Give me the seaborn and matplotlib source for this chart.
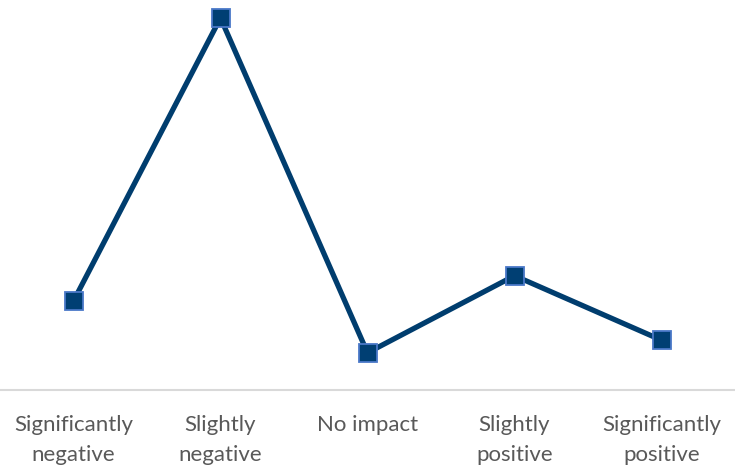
import matplotlib.pyplot as plt
import seaborn as sns
import pandas as pd

categories = ["Significantly\nnegative", "Slightly\nnegative", "No impact",
              "Slightly\npositive", "Significantly\npositive"]
values = [13.4, 56, 5.6, 17.2, 7.5]

df = pd.DataFrame({"pos": range(len(categories)), "value": values})

sns.set_style("white")
plt.rcParams['font.family'] = ['Lato', 'DejaVu Sans']

fig = plt.figure(figsize=(7.35, 4.73), dpi=100)
ax = fig.add_axes([0, (473 - 390) / 473, 1, 390 / 473])

sns.lineplot(data=df, x="pos", y="value", ax=ax, color="#003D6E", linewidth=3.8,
             marker="s", markersize=13.5, markerfacecolor="#003F73",
             markeredgecolor="#4A78C8", markeredgewidth=1.3, clip_on=False)

ax.set_xlim(-0.5, 4.5)
ax.set_ylim(0, 58.7)
ax.set_xticks(range(len(categories)))
ax.set_xticklabels(categories, fontsize=16, color="#595959", linespacing=1.6)
ax.tick_params(axis="x", length=0, pad=18)
ax.set_yticks([])
ax.set_xlabel("")
ax.set_ylabel("")
for side in ["top", "left", "right"]:
    ax.spines[side].set_visible(False)
ax.spines["bottom"].set_color("#D9D9D9")
ax.spines["bottom"].set_linewidth(1.5)

fig.savefig("out.png", dpi=100)
